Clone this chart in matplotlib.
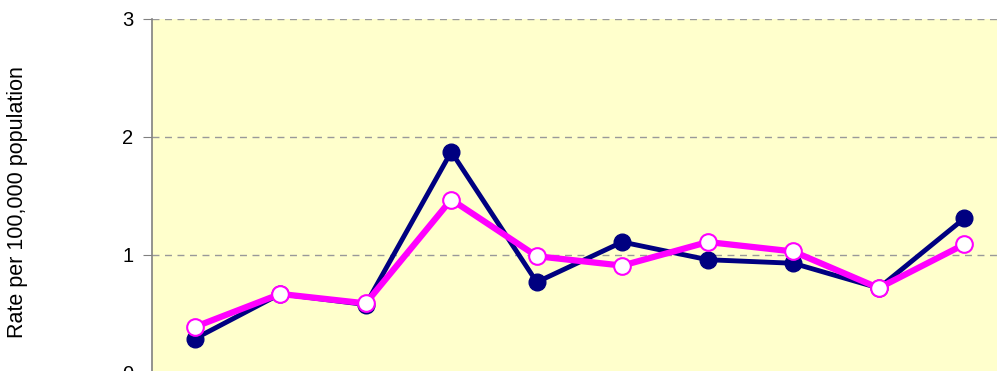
import numpy as np
import matplotlib.pyplot as plt

plt.rcParams['font.family'] = ['Liberation Sans', 'DejaVu Sans']

# rates for the ten periods, two series
periods = list(range(1, 11))
rate_a = [0.29, 0.67, 0.58, 1.875, 0.77, 1.11, 0.96, 0.93, 0.72, 1.31]
rate_b = [0.39, 0.67, 0.59, 1.47, 0.99, 0.91, 1.11, 1.03, 0.72, 1.09]
yticks = [0, 1, 2, 3]

fig = plt.figure(figsize=(9.97, 3.71), dpi=100)
# axes runs past the lower and right edges of the canvas
ax = fig.add_axes([152 / 997, -2 / 371, 855 / 997, 354 / 371])
ax.set_facecolor('#FFFFCC')

ax.plot(periods, rate_a, color='#000080', lw=3.5, marker='o', ms=12,
        mfc='#000080', mec='#000080', zorder=3)
ax.plot(periods, rate_b, color='#FF00FF', lw=4.5, marker='o', ms=12,
        mfc='white', mec='#FF00FF', mew=1.5, zorder=4)

ax.set_xlim(0.5, 10.5)
ax.set_ylim(0, 3)
ax.set_yticks(yticks)
ax.set_xticks([])
ax.tick_params(axis='y', labelsize=14.5, length=6.5, color='#808080', pad=7)
ax.yaxis.grid(True, color='#999999', ls=(0, (5, 4)), lw=1)
ax.set_axisbelow(True)

for side in ['top', 'right', 'bottom']:
    ax.spines[side].set_visible(False)
ax.spines['left'].set_color('#808080')
ax.spines['left'].set_linewidth(1.2)

fig.text(18 / 997, 1 - 202 / 371, 'Rate per 100,000 population', rotation=90,
         ha='center', va='center', fontsize=15.5)

fig.savefig('out.png', dpi=100)
